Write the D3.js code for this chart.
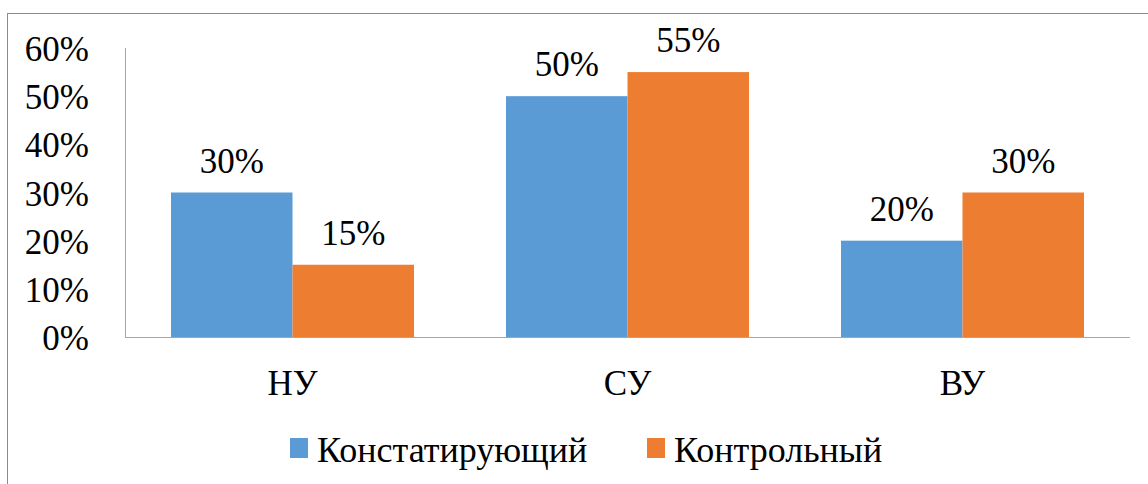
<!DOCTYPE html>
<html>
<head>
<meta charset="utf-8">
<script src="https://cdn.jsdelivr.net/npm/d3@7"></script>
<style>
  body { margin: 0; background: #fff; }
  svg { display: block; }
  svg text { font-family: 'Liberation Serif', 'Times New Roman', serif; }
</style>
</head>
<body>
<svg id="chart" width="1148" height="484" font-family="Liberation Serif"></svg>
<script>
// data
const categories = ['НУ', 'СУ', 'ВУ']
const seriesNames = ['Констатирующий', 'Контрольный']
const konstValues = [0.30, 0.50, 0.20]
const kontrValues = [0.15, 0.55, 0.30]
const yTicks = [0, 0.1, 0.2, 0.3, 0.4, 0.5, 0.6]
const colors = ['#5B9BD5', '#ED7D31']

const width = 1148
const height = 484
const fontSize = 35
const font = 'Liberation Serif'

const svg = d3.select('#chart')

// outer frame
svg.append('rect')
  .attr('x', 7.5).attr('y', 13.5)
  .attr('width', width + 10).attr('height', height + 10)
  .attr('fill', 'none')
  .attr('stroke', '#8c8c8c')
  .attr('stroke-width', 1)

const plot = { left: 125, right: 1130, top: 48, bottom: 337 }

const x0 = d3.scaleBand()
  .domain(categories)
  .range([plot.left, plot.right])
  .paddingInner(0.2746)
  .paddingOuter(0.1373)

const x1 = d3.scaleBand()
  .domain(seriesNames)
  .range([0, x0.bandwidth()])

const y = d3.scaleLinear()
  .domain([0, 0.6])
  .range([plot.bottom, plot.top])

const rows = categories.map((c, i) => ({
  cat: c,
  values: [konstValues[i], kontrValues[i]]
}))

// bars
const groups = svg.append('g')
  .selectAll('g')
  .data(rows)
  .join('g')
  .attr('transform', (d) => `translate(${x0(d.cat)},0)`)

groups.selectAll('rect')
  .data((d) => d.values.map((v, j) => ({ v, name: seriesNames[j], j })))
  .join('rect')
  .attr('x', (d) => x1(d.name))
  .attr('y', (d) => y(d.v))
  .attr('width', x1.bandwidth())
  .attr('height', (d) => y(0) - y(d.v))
  .attr('fill', (d) => colors[d.j])

// value labels
groups.selectAll('text')
  .data((d) => d.values.map((v, j) => ({ v, name: seriesNames[j], j })))
  .join('text')
  .attr('x', (d) => x1(d.name) + x1.bandwidth() / 2)
  .attr('y', (d) => y(d.v) - 20)
  .attr('text-anchor', 'middle')
  .attr('font-size', fontSize)
  .attr('fill', '#000')
  .text((d) => d3.format('.0%')(d.v))

// y axis line
svg.append('line')
  .attr('x1', plot.left + 0.5).attr('x2', plot.left + 0.5)
  .attr('y1', plot.top).attr('y2', plot.bottom)
  .attr('stroke', '#a6a6a6')

// x axis line
svg.append('line')
  .attr('x1', plot.left).attr('x2', plot.right)
  .attr('y1', plot.bottom + 0.5).attr('y2', plot.bottom + 0.5)
  .attr('stroke', '#a6a6a6')

// y tick labels
svg.append('g')
  .selectAll('text')
  .data(yTicks)
  .join('text')
  .attr('x', 89)
  .attr('y', (d) => y(d) + 13)
  .attr('text-anchor', 'end')
  .attr('font-size', fontSize)
  .attr('fill', '#000')
  .text((d) => d3.format('.0%')(d))

// category labels
svg.append('g')
  .selectAll('text')
  .data(categories)
  .join('text')
  .attr('x', (d) => x0(d) + x0.bandwidth() / 2)
  .attr('y', 395)
  .attr('text-anchor', 'middle')
  .attr('font-size', fontSize)
  .attr('fill', '#000')
  .text((d) => d)

// legend
const legendX = [290, 647]
const legend = svg.append('g')
  .selectAll('g')
  .data(seriesNames)
  .join('g')
  .attr('transform', (d, i) => `translate(${legendX[i]},438)`)

legend.append('rect')
  .attr('width', 18)
  .attr('height', 20)
  .attr('fill', (d, i) => colors[i])

legend.append('text')
  .attr('x', 27)
  .attr('y', 24)
  .attr('font-size', 36)
  .attr('fill', '#000')
  .text((d) => d)

// make sure the serif face is used once it is resolved
svg.selectAll('text').attr('font-family', font)
if (document.fonts && document.fonts.load) {
  document.fonts.load(`${fontSize}px "${font}"`, 'Кон60%').then(() => {
    svg.selectAll('text').attr('font-family', null).attr('font-family', font)
  })
}
</script>
</body>
</html>
